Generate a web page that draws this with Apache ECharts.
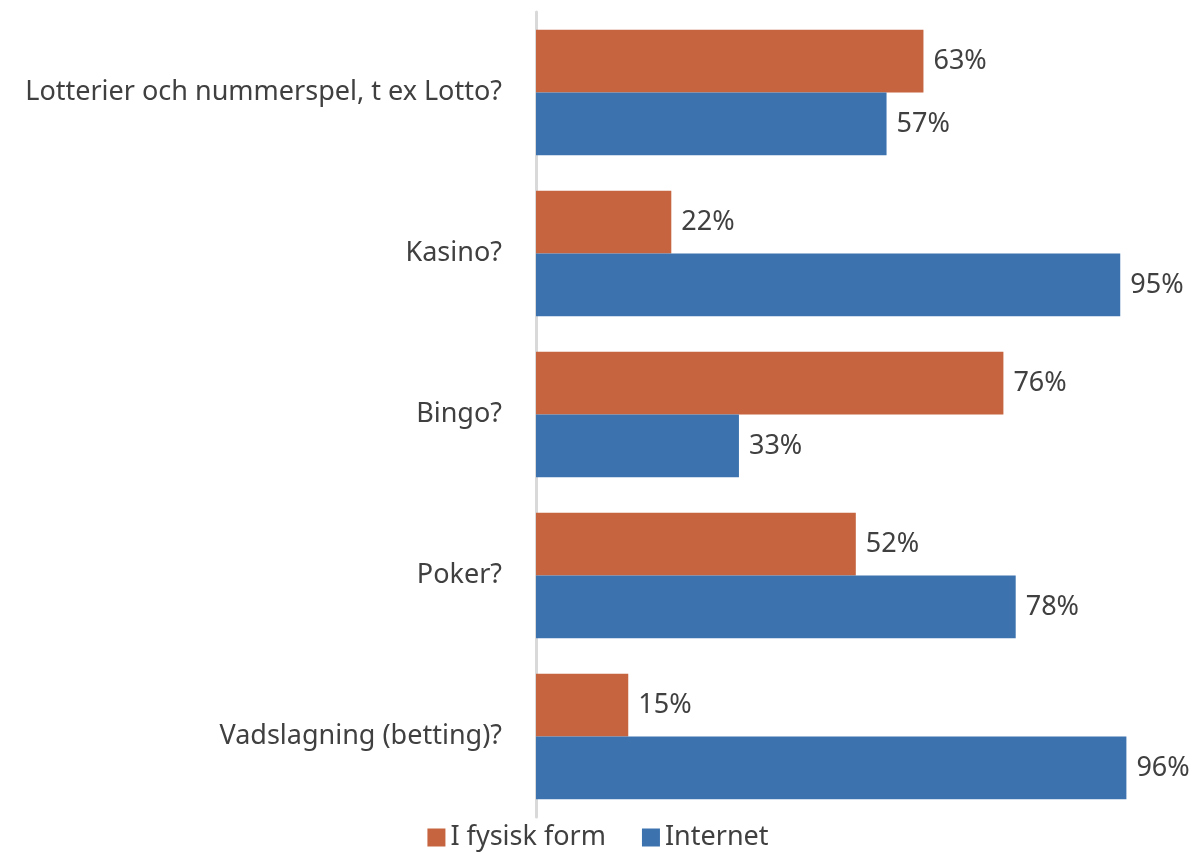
<!DOCTYPE html>
<html>
<head>
<meta charset="utf-8">
<script src="https://cdn.jsdelivr.net/npm/echarts@6.0.0/dist/echarts.min.js"></script>
<style>
  body, html { padding: 0; margin: 0; width: 100%; height: 100%; overflow: hidden; background: #fff; }
  #chart { width: 1196px; height: 853px; }
</style>
</head>
<body>
<div id="chart"></div>
<script>
var categories = ['Lotterier och nummerspel, t ex Lotto?', 'Kasino?', 'Bingo?', 'Poker?', 'Vadslagning (betting)?'];
var fysisk = [63, 22, 76, 52, 15];
var internet = [57, 95, 33, 78, 96];

var font = 'Noto Sans';
var textColor = '#404040';

var valueLabel = {
  show: true,
  position: 'right',
  distance: 10,
  formatter: '{c}%',
  fontFamily: font,
  fontSize: 27,
  color: textColor
};

var chart = echarts.init(document.getElementById('chart'));
chart.setOption({
  animation: false,
  textStyle: { fontFamily: font },
  grid: { left: 536, right: 45, top: 12, bottom: 36 },
  legend: {
    bottom: -3,
    left: 'center',
    itemWidth: 18,
    itemHeight: 18,
    itemGap: 36,
    icon: 'rect',
    textStyle: { fontFamily: font, fontSize: 27, color: textColor },
    data: ['I fysisk form', 'Internet']
  },
  xAxis: {
    type: 'value',
    min: 0,
    max: 100,
    show: false,
    splitLine: { show: false }
  },
  yAxis: {
    type: 'category',
    inverse: true,
    data: categories,
    axisLine: { show: true, lineStyle: { color: '#D9D9D9', width: 3 } },
    axisTick: { show: false },
    axisLabel: { fontFamily: font, fontSize: 27, color: textColor, margin: 34 }
  },
  series: [
    {
      name: 'I fysisk form',
      type: 'bar',
      data: fysisk,
      barGap: '0%',
      barCategoryGap: '22%',
      itemStyle: { color: '#C5643E' },
      label: valueLabel
    },
    {
      name: 'Internet',
      type: 'bar',
      data: internet,
      barGap: '0%',
      barCategoryGap: '22%',
      itemStyle: { color: '#3C73AE' },
      label: valueLabel
    }
  ]
});
</script>
</body>
</html>
